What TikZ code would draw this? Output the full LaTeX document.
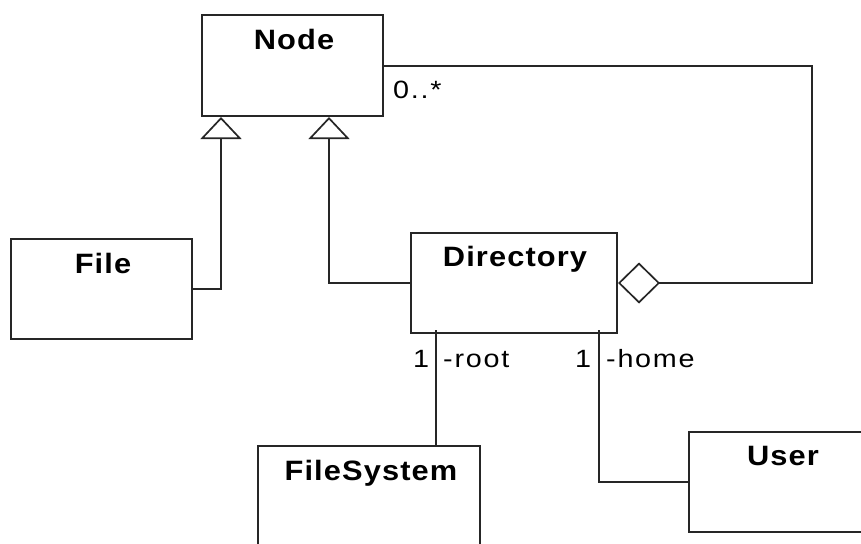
\documentclass[tikz,border=0pt]{standalone}
\usepackage{fontspec}
\setmainfont{Liberation Sans}
\newfontfamily\clsfont{Liberation Sans}[FakeStretch=1.1,LetterSpace=4]
\newfontfamily\lblfont{Liberation Sans}[FakeStretch=1.15,LetterSpace=7]
\usetikzlibrary{arrows.meta,calc}
\tikzset{
  box/.style={draw=black!85, line width=2pt, fill=none, inner sep=0pt, rectangle},
  clsname/.style={inner sep=0pt, anchor=base, font=\clsfont\bfseries\fontsize{28}{30}\selectfont},
  lbl/.style={inner sep=0pt, anchor=base west, font=\lblfont\fontsize{25}{27}\selectfont},
  conn/.style={draw=black!85, line width=2pt},
  gen/.style={conn, -{Triangle[open, length=22pt, width=41pt, line width=1.7pt]}},
  agg/.style={conn, -{Diamond[open, length=42pt, width=41pt, line width=1.7pt]}},
}
\begin{document}
\begin{tikzpicture}[x=1pt, y=-1pt]
\useasboundingbox (0,0) rectangle (861,543);
\clip (0,0) rectangle (861,543);
% class boxes
\node[box, minimum width=181pt, minimum height=101pt] (node) at (292.5,65.5) {};
\node[box, minimum width=181pt, minimum height=100pt] (file) at (101.5,289) {};
\node[box, minimum width=206pt, minimum height=100pt] (dir) at (514,283) {};
\node[box, minimum width=222pt, minimum height=100pt] (fs) at (369,496) {};
\node[box, minimum width=200pt, minimum height=100pt] (user) at (789,482) {};
% class names
\node[clsname] (nodet) at (294,49) {Node};
\node[clsname] (filet) at (103,273) {File};
\node[clsname] (dirt) at (515,266) {Directory};
\node[clsname] (fst) at (371,480) {FileSystem};
\node[clsname] (usert) at (783,465) {User};
% generalizations
\draw[gen] (file.east) -| ([xshift=20pt]node.south west);
\draw[gen] (dir.west) -| ([xshift=128pt]node.south west);
% aggregation
\draw[agg] (node.east) -| ([xshift=194pt]dir.east) -- (dir.east);
\node[lbl] (mult) at (393,98) {0..*};
% associations
\draw[conn] ([xshift=26pt,yshift=4pt]dir.south west) -- ([xshift=26pt]dir.south west |- fs.north);
\draw[conn] ([xshift=189pt,yshift=4pt]dir.south west) |- (user.west);
\node[lbl] (r1) at (413,367) {1};
\node[lbl] (rr) at (443,367) {-root};
\node[lbl] (h1) at (575,367) {1};
\node[lbl] (hh) at (606,367) {-home};
\end{tikzpicture}
\end{document}
